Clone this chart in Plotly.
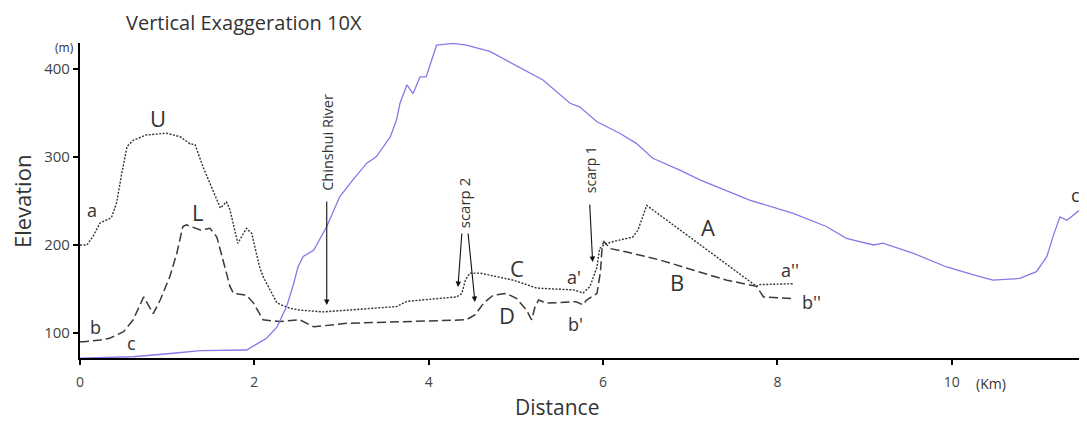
import plotly.graph_objects as go

# Profile a-a' (dotted)
a_x = [0, 0.08, 0.15, 0.23, 0.36, 0.42, 0.48, 0.54, 0.61, 0.76, 0.99, 1.15, 1.26, 1.32, 1.41, 1.53,
       1.61, 1.68, 1.72, 1.81, 1.91, 1.97, 2.06, 2.10, 2.26, 2.41, 2.52, 2.79, 3.06, 3.63, 3.75, 4.32,
       4.38, 4.42, 4.47, 4.59, 4.97, 5.24, 5.66, 5.77, 5.85, 5.93, 5.96, 6.02, 6.12, 6.34, 6.40, 6.50,
       7.76, 7.80, 8.18]
a_y = [200, 200, 210, 225, 231, 248, 282, 312, 319, 325, 327, 323, 315, 314, 289, 262,
       242, 249, 240, 202, 219, 213, 175, 164, 134, 128, 126, 124, 126, 130, 136, 141,
       145, 160, 168, 168, 160, 151, 149, 145.5, 153, 175, 196, 201, 204, 209, 217, 245,
       153, 155, 156]

# Profile b-b' (dashed)
b_x = [0, 0.04, 0.23, 0.34, 0.50, 0.61, 0.73, 0.84, 0.92, 1.03, 1.11, 1.18, 1.22, 1.38, 1.49, 1.57,
       1.72, 1.76, 1.91, 1.99, 2.10, 2.29, 2.52, 2.68, 3.06, 3.82, 4.43, 4.53, 4.63, 4.74, 4.89, 5.01,
       5.12, 5.18, 5.22, 5.26, 5.35, 5.69, 5.77, 5.81, 5.93, 5.97, 5.99, 6.01, 6.08, 6.27, 6.65, 7.03,
       7.42, 7.76, 7.84, 8.18]
b_y = [90, 90, 92, 94, 101.5, 115, 141, 122, 137.5, 164, 190.5, 221, 223, 217, 219, 209,
       153, 145, 143, 134, 115, 113, 115, 107, 111, 113, 115, 120.5, 134, 143, 145, 139,
       126, 115, 130, 137.5, 134, 135.5, 132, 137.5, 145, 170, 200, 204, 196, 192, 183, 171.6,
       160, 153, 141, 139]

# Profile c-c' (solid)
c_x = [0, 0.61, 1.07, 1.38, 1.91, 2.03, 2.14, 2.26, 2.37, 2.45, 2.50, 2.56, 2.68, 2.83, 2.98, 3.13,
       3.29, 3.40, 3.56, 3.63, 3.67, 3.75, 3.82, 3.90, 3.97, 4.01, 4.09, 4.28, 4.43, 4.70, 4.89, 5.31,
       5.62, 5.73, 5.93, 6.19, 6.38, 6.57, 6.88, 7.11, 7.68, 8.18, 8.56, 8.79, 9.10, 9.21, 9.56, 9.94,
       10.25, 10.47, 10.78, 10.97, 11.09, 11.16, 11.24, 11.32, 11.47, 11.55]
c_y = [71.5, 73, 77, 80, 80.7, 88, 94, 107, 130, 156, 175, 187, 194, 221, 255, 274,
       293, 300.5, 323, 342, 361, 382, 372, 391, 391, 403, 427, 429, 427, 420, 410, 387.5,
       361, 357, 340, 327, 315.5, 298.5, 285, 274, 251, 236, 221, 207.6, 200, 202, 190.5, 175,
       166, 160, 162, 169.7, 187, 209.5, 232, 228, 240, 236]

x_ticks = [0, 2, 4, 6, 8, 10]
x_tick_labels = ["0", "2", "4", "6", "8", "10"]
y_ticks = [100, 200, 300, 400]
y_tick_labels = ["100", "200", "300", "400"]

FONT = "Open Sans"
TXT = "#333333"

fig = go.Figure()
fig.add_trace(go.Scatter(x=a_x, y=a_y, mode="lines",
                         line=dict(color="#333333", width=1.4, dash="2px,1.5px"), hoverinfo="skip"))
fig.add_trace(go.Scatter(x=b_x, y=b_y, mode="lines",
                         line=dict(color="#3a3a3a", width=1.5, dash="9px,4px"), hoverinfo="skip"))
fig.add_trace(go.Scatter(x=c_x, y=c_y, mode="lines",
                         line=dict(color="#8878e8", width=1.3), hoverinfo="skip"))

labels = [
    ("U", 0.894, 344, 22), ("L", 1.353, 237, 22), ("a", 0.138, 240, 18), ("b", 0.172, 107, 18),
    ("c", 0.596, 88.6, 18), ("C", 5.01, 174, 22), ("D", 4.90, 120.5, 22), ("a'", 5.67, 163.6, 18),
    ("b'", 5.68, 110.2, 18), ("A", 7.20, 220.5, 22), ("B", 6.85, 158, 22), ("a''", 8.14, 171.6, 18),
    ("b''", 8.39, 135.2, 18), ("c'", 11.44, 256.8, 18),
]
ann = []
for t, x, y, s in labels:
    ann.append(dict(text=t, x=x, y=y, xref="x", yref="y", showarrow=False,
                    font=dict(family=FONT, size=s, color=TXT)))

# rotated annotations
ann.append(dict(text="Chinshui River", x=2.83, y=317, xref="x", yref="y", showarrow=False,
                textangle=-90, font=dict(family=FONT, size=14.5, color=TXT)))
ann.append(dict(text="scarp 2", x=4.40, y=247, xref="x", yref="y", showarrow=False,
                textangle=-90, font=dict(family=FONT, size=15, color=TXT)))
ann.append(dict(text="scarp 1", x=5.85, y=285, xref="x", yref="y", showarrow=False,
                textangle=-90, font=dict(family=FONT, size=14, color=TXT)))
# arrows
arrows = [(2.83, 131.8, 0, -105), (4.335, 152.3, 4, -55), (4.53, 135.2, -7, -70), (5.88, 180.7, -3, -59)]
for x, y, ax, ay in arrows:
    ann.append(dict(text="", x=x, y=y, xref="x", yref="y", ax=ax, ay=ay, showarrow=True,
                    arrowhead=2, arrowsize=1, arrowwidth=1.1, arrowcolor="#111"))

ann.append(dict(text="(m)", xref="paper", x=0, xanchor="right", xshift=-4, y=400, yref="y",
                yshift=21, showarrow=False, font=dict(family=FONT, size=12, color=TXT)))
ann.append(dict(text="(Km)", xref="x", x=10.45, yref="paper", y=0, yanchor="top", yshift=-14,
                showarrow=False, font=dict(family=FONT, size=14, color=TXT)))
ann.append(dict(text="Vertical Exaggeration 10X", xref="paper", yref="paper", x=0.044, y=1,
                xanchor="left", yanchor="middle", yshift=21, showarrow=False,
                font=dict(family=FONT, size=20, color=TXT)))
ann.append(dict(text="Elevation", xref="paper", yref="paper", x=0, y=0.495, xshift=-58,
                xanchor="center", yanchor="middle",
                textangle=-90, showarrow=False, font=dict(family=FONT, size=22, color=TXT)))
ann.append(dict(text="Distance", xref="paper", yref="paper", x=0.474, y=0, yshift=-49,
                xanchor="center", yanchor="middle",
                showarrow=False, font=dict(family=FONT, size=21, color=TXT)))

# page has an 8px body margin: shift figure up/left to compensate
fig.update_layout(
    width=1087, height=421,
    margin=dict(l=72, r=8, t=35, b=71),
    paper_bgcolor="white", plot_bgcolor="white",
    showlegend=False,
    annotations=ann,
    font=dict(family=FONT, color=TXT),
    xaxis=dict(range=[0, 11.55], tickvals=x_ticks, ticktext=x_tick_labels, showgrid=False,
               zeroline=False, showline=True, linecolor="black", linewidth=2.2,
               ticks="outside", ticklen=5, tickwidth=2, tickcolor="black", ticklabelstandoff=5,
               tickfont=dict(family=FONT, size=14, color="#444")),
    yaxis=dict(range=[71.6, 429.5], tickvals=y_ticks, ticktext=y_tick_labels, showgrid=False,
               zeroline=False, showline=True, linecolor="black", linewidth=2.2,
               ticks="outside", ticklen=5, tickwidth=2, tickcolor="black",
               tickfont=dict(family=FONT, size=15, color="#444")),
)

fig.write_html("out.html")
